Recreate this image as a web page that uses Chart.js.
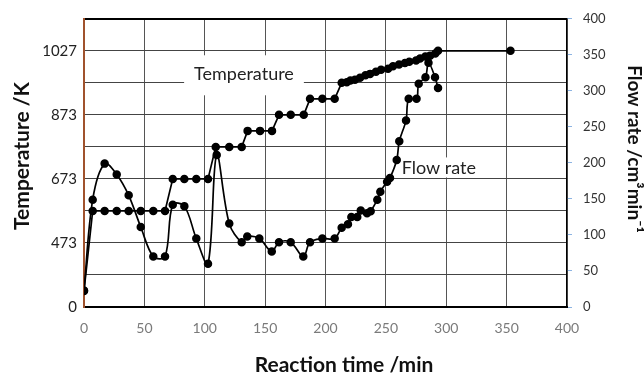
<!DOCTYPE html>
<html>
<head>
<meta charset="utf-8">
<script src="https://cdn.jsdelivr.net/npm/chart.js@4"></script>
<style>
  html, body { margin: 0; padding: 0; background: #fff; }
  #wrap { width: 644px; height: 374px; }
</style>
</head>
<body>
<div id="wrap"><canvas id="chart" width="644" height="374"></canvas></div>
<script>
// flow rate series (right axis, cm3/min)
const timeFlow = [0, 7.2, 17.1, 27.1, 37.0, 47.0, 57.4, 67.1, 73.5, 83.1, 93.0, 102.7,
  109.9, 120.3, 130.6, 135.2, 145.2, 155.5, 161.5, 171.2, 181.6, 187.2, 197.4, 207.6,
  213.4, 218.6, 221.4, 226.3, 229.2, 234.4, 237.4, 242.9, 245.4, 251.0, 253.4, 259.0,
  261.1, 266.7, 268.9, 275.4, 277.2, 282.8, 285.3, 290.7, 293.2];
const flowRate = [23, 149, 199, 184, 155, 111, 70, 70, 142, 140, 95, 60,
  211, 116, 90, 98, 95, 77, 90, 90, 70, 90, 95, 95,
  110, 115, 125, 125, 134, 130, 133, 149, 160, 174, 179, 204,
  230, 259, 289, 289, 310, 319, 339, 319, 304];

// temperature series (left axis, in grid steps of 100; labels below)
const timeTemp = [0, 7.2, 17.1, 27.1, 37.0, 47.0, 57.4, 67.1, 73.5, 83.1, 93.0, 102.7,
  109.1, 120.3, 130.6, 135.5, 145.8, 155.7, 161.5, 171.2, 182.0, 187.2, 197.4, 207.6,
  213.4, 217.6, 220.6, 224.4, 228.6, 233.1, 236.9, 241.8, 246.0, 251.8, 255.9, 260.9,
  265.8, 269.4, 275.0, 278.3, 282.7, 286.6, 290.9, 293.2, 353.2];
const tempLevel = [50, 300, 300, 300, 300, 300, 300, 300, 400, 400, 400, 400,
  500, 500, 500, 550, 550, 550, 600, 600, 600, 650, 650, 650,
  700, 702, 707, 710, 716, 724, 728, 735, 741, 744, 752, 757,
  762, 766, 770, 776, 782, 785, 792, 800, 800];

const tempTicks = [0, 200, 400, 600, 800];
const tempTickLabels = ['0', '473', '673', '873', '1027'];

const FONT = 'Lato, "Open Sans", sans-serif';
Chart.defaults.font.family = FONT;

const labelsPlugin = {
  id: 'labels',
  beforeDatasetsDraw(chart) {
    const {ctx, scales: {x, y, y2}} = chart;
    ctx.save();
    ctx.font = '18px ' + FONT;
    ctx.textBaseline = 'alphabetic';
    ctx.textAlign = 'center';
    // "Temperature" callout
    let cx = x.getPixelForValue(132.5), by = y.getPixelForValue(708);
    let w = ctx.measureText('Temperature').width;
    ctx.fillStyle = '#fff';
    ctx.fillRect(cx - w / 2 - 10, by - 25, w + 20, 40);
    ctx.fillStyle = '#222';
    ctx.fillText('Temperature', cx, by);
    // "Flow rate" callout
    ctx.textAlign = 'left';
    let lx = x.getPixelForValue(263.1);
    by = y2.getPixelForValue(184);
    w = ctx.measureText('Flow rate').width;
    ctx.fillStyle = '#fff';
    ctx.fillRect(lx - 3, by - 17, w + 6, 20);
    ctx.fillStyle = '#222';
    ctx.fillText('Flow rate', lx, by);
    ctx.restore();
  },
  afterDraw(chart) {
    const {ctx} = chart;
    ctx.save();
    ctx.font = 'bold 21px ' + FONT;
    ctx.fillStyle = '#111';
    ctx.textAlign = 'center';
    ctx.textBaseline = 'middle';
    ctx.fillText('Reaction time /min', 344, 365);
    ctx.translate(22, 156);
    ctx.rotate(-Math.PI / 2);
    ctx.fillText('Temperature /K', 0, 0);
    ctx.restore();
    ctx.save();
    ctx.font = 'bold 19px ' + FONT;
    ctx.fillStyle = '#111';
    ctx.textAlign = 'center';
    ctx.textBaseline = 'middle';
    ctx.translate(634, 149);
    ctx.rotate(Math.PI / 2);
    ctx.fillText('Flow rate /cm\u00B3min\u207B\u00B9', 0, 0);
    ctx.restore();
  }
};

const config = {
  type: 'line',
  data: {
    datasets: [
      {
        label: 'Temperature',
        data: timeTemp.map((t, i) => ({x: t, y: tempLevel[i]})),
        yAxisID: 'y',
        borderColor: '#000',
        backgroundColor: '#000',
        borderWidth: 1.7,
        pointRadius: 3.4,
        pointHoverRadius: 3.4,
        tension: 0,
      },
      {
        label: 'Flow rate',
        data: timeFlow.map((t, i) => ({x: t, y: flowRate[i]})),
        yAxisID: 'y2',
        borderColor: '#000',
        backgroundColor: '#000',
        borderWidth: 1.7,
        pointRadius: 3.4,
        pointHoverRadius: 3.4,
        tension: 0.35,
      },
    ],
  },
  options: {
    responsive: false,
    animation: false,
    layout: {padding: {top: 16, left: 0, right: 0, bottom: 0}},
    plugins: {
      legend: {display: false},
      tooltip: {enabled: false},
    },
    scales: {
      x: {
        type: 'linear',
        position: 'bottom',
        min: 0,
        max: 400,
        afterFit: (s) => { s.height = 67; },
        ticks: {stepSize: 50, padding: 13, color: '#7a7a7a', font: {size: 14}},
        grid: {
          drawTicks: false,
          color: (c) => c.index === 8 ? '#000' : '#555',
          lineWidth: (c) => c.index === 8 ? 1.5 : 1,
        },
        border: {color: '#000', width: 2},
      },
      y: {
        type: 'linear',
        position: 'left',
        min: 0,
        max: 900,
        afterFit: (s) => { s.width = 84; },
        ticks: {
          stepSize: 100,
          padding: 7,
          color: '#222',
          font: {size: 15},
          callback: (v) => {
            const k = tempTicks.indexOf(v);
            return k >= 0 ? tempTickLabels[k] : '';
          },
        },
        grid: {
          drawTicks: false,
          color: (c) => c.index === 9 ? '#000' : '#444',
          lineWidth: (c) => c.index === 9 ? 2 : 1,
        },
        border: {color: '#a0522d', width: 2},
      },
      y2: {
        type: 'linear',
        position: 'right',
        min: 0,
        max: 400,
        afterFit: (s) => { s.width = 77; },
        ticks: {stepSize: 50, padding: 11, color: '#333', font: {size: 13}},
        grid: {
          drawOnChartArea: false,
          drawTicks: true,
          tickLength: 5,
          tickColor: '#8db4e2',
        },
        border: {color: '#000', width: 1.5},
      },
    },
  },
  plugins: [labelsPlugin],
};

const chart = new Chart(document.getElementById('chart'), config);
</script>
</body>
</html>
